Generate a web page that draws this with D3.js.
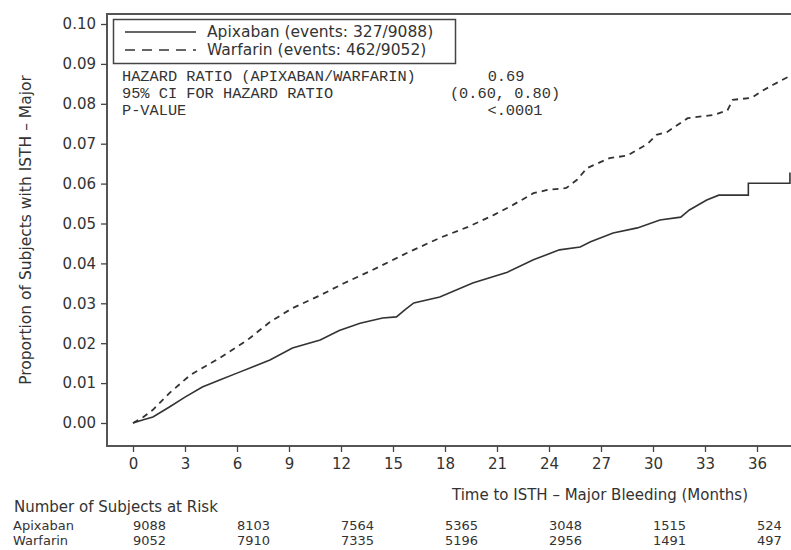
<!DOCTYPE html>
<html>
<head>
<meta charset="utf-8">
<script src="https://cdn.jsdelivr.net/npm/d3@7"></script>
<style>
  body { margin: 0; background: #fff; }
  svg text { fill: #333; }
</style>
</head>
<body>
<div id="chart"></div>
<script>
// tick labels
var xTicks = [0, 3, 6, 9, 12, 15, 18, 21, 24, 27, 30, 33, 36];
var yTicks = [0, 0.01, 0.02, 0.03, 0.04, 0.05, 0.06, 0.07, 0.08, 0.09, 0.10];

// cumulative proportion (months, proportion)
var apixabanTime = [0, 0.6, 1.15, 2.1, 3, 4.0, 5, 6.0, 7, 7.9, 9.2, 10.8, 11.9, 13.1, 14.4, 15.2, 15.7, 16.2, 17.7, 19.6, 21.6, 23.1, 24.6, 25.8, 26.4, 27.7, 29.1, 30.4, 31.6, 32.1, 33.1, 33.8, 35.5, 35.5, 37.9, 37.9];
var apixabanProp = [0, 0.0008, 0.0015, 0.004, 0.0065, 0.009, 0.0108, 0.0125, 0.0142, 0.0158, 0.0188, 0.0208, 0.0232, 0.025, 0.0263, 0.0266, 0.0284, 0.0301, 0.0316, 0.0351, 0.0378, 0.0409, 0.0434, 0.0441, 0.0454, 0.0476, 0.0489, 0.0509, 0.0516, 0.0534, 0.0559, 0.0571, 0.0571, 0.0601, 0.0601, 0.0628];

var warfarinTime = [0, 0.6, 1.15, 2.1, 3.3, 5.0, 6.6, 7.9, 9.2, 10.8, 12.2, 13.8, 15.8, 17.7, 19.3, 20.8, 21.9, 23.1, 23.9, 25.0, 25.6, 26.2, 27.5, 28.5, 29.7, 30.2, 30.8, 32.0, 33.5, 34.3, 34.6, 35.7, 36.2, 36.9, 38.0];
var warfarinProp = [0, 0.0015, 0.0033, 0.0075, 0.012, 0.0163, 0.0208, 0.0253, 0.0288, 0.032, 0.0351, 0.0383, 0.0426, 0.0464, 0.0491, 0.0521, 0.0546, 0.0576, 0.0584, 0.0589, 0.0609, 0.0639, 0.0664, 0.067, 0.070, 0.0722, 0.0729, 0.0764, 0.0772, 0.0784, 0.081, 0.0815, 0.083, 0.0847, 0.0872];

// number at risk table
var riskMonths = [0, 6, 12, 18, 24, 30, 36];
var apixabanRisk = [9088, 8103, 7564, 5365, 3048, 1515, 524];
var warfarinRisk = [9052, 7910, 7335, 5196, 2956, 1491, 497];

var legendLabels = ["Apixaban (events: 327/9088)", "Warfarin (events: 462/9052)"];
var statLabels = ["HAZARD RATIO (APIXABAN/WARFARIN)", "95% CI FOR HAZARD RATIO", "P-VALUE"];
var statValues = ["0.69", "(0.60, 0.80)", "<.0001"];

var width = 791;
var height = 550;
var frame = { left: 107, top: 14, right: 800, bottom: 446 };
var lineColor = "#333";
var font = "'DejaVu Sans', sans-serif";

var svg = d3.select("#chart")
  .append("svg")
  .attr("width", width)
  .attr("height", height);

var x = d3.scaleLinear().domain([0, 36]).range([133, 757]);
var y = d3.scaleLinear().domain([0, 0.10]).range([423, 24]);

// frame
svg.append("path")
  .attr("d", "M" + frame.right + "," + frame.top + "H" + frame.left + "V" + frame.bottom + "H" + frame.right)
  .attr("fill", "none")
  .attr("stroke", "#555")
  .attr("stroke-width", 2);

// y axis
var yAxis = svg.append("g")
  .attr("transform", "translate(" + frame.left + ",0)")
  .call(d3.axisLeft(y).tickValues(yTicks).tickFormat(d3.format(".2f")).tickSize(6).tickPadding(5));
yAxis.select(".domain").remove();

// x axis
var xAxis = svg.append("g")
  .attr("transform", "translate(0," + frame.bottom + ")")
  .call(d3.axisBottom(x).tickValues(xTicks).tickSize(6).tickPadding(6));
xAxis.select(".domain").remove();

svg.selectAll(".tick line").attr("stroke", "#444").attr("stroke-width", 1.3);
svg.selectAll(".tick text")
  .style("font-family", font)
  .style("font-size", "15px")
  .attr("fill", "#333");

// axis titles
svg.append("text")
  .attr("transform", "translate(31,230) rotate(-90)")
  .attr("text-anchor", "middle")
  .style("font-family", font)
  .style("font-size", "15.5px")
  .text("Proportion of Subjects with ISTH \u2013 Major");

svg.append("text")
  .attr("x", 600)
  .attr("y", 500)
  .attr("text-anchor", "middle")
  .style("font-family", font)
  .style("font-size", "15px")
  .text("Time to ISTH \u2013 Major Bleeding (Months)");

// curves
var line = d3.line()
  .x(function(d) { return x(d[0]); })
  .y(function(d) { return y(d[1]); });

var apixabanData = d3.zip(apixabanTime, apixabanProp);
var warfarinData = d3.zip(warfarinTime, warfarinProp);

svg.append("path")
  .datum(apixabanData)
  .attr("d", line)
  .attr("fill", "none")
  .attr("stroke", lineColor)
  .attr("stroke-width", 1.6);

svg.append("path")
  .datum(warfarinData)
  .attr("d", line)
  .attr("fill", "none")
  .attr("stroke", lineColor)
  .attr("stroke-width", 1.8)
  .attr("stroke-dasharray", "6,5");

// legend
var legend = svg.append("g");
legend.append("rect")
  .attr("x", 113.5)
  .attr("y", 19.5)
  .attr("width", 342)
  .attr("height", 44)
  .attr("fill", "#fff")
  .attr("stroke", "#444")
  .attr("stroke-width", 1.5);

legendLabels.forEach(function(label, i) {
  var ly = 32 + i * 18;
  legend.append("line")
    .attr("x1", 125).attr("x2", 196)
    .attr("y1", ly).attr("y2", ly)
    .attr("stroke", lineColor)
    .attr("stroke-width", 1.5)
    .attr("stroke-dasharray", i == 0 ? null : "10,7");
  legend.append("text")
    .attr("x", 207)
    .attr("y", ly + 5)
    .style("font-family", font)
    .style("font-size", "15.5px")
    .text(label);
});

// hazard ratio block
statLabels.forEach(function(label, i) {
  svg.append("text")
    .attr("x", 122)
    .attr("y", 81 + i * 17)
    .style("font-family", "'Liberation Mono', monospace")
    .style("font-size", "15.3px")
    .attr("fill", "#444")
    .text(label);
});
var statX = [506, 505, 515];
statValues.forEach(function(v, i) {
  svg.append("text")
    .attr("x", statX[i])
    .attr("y", 81 + i * 17)
    .attr("text-anchor", "middle")
    .style("font-family", "'Liberation Mono', monospace")
    .style("font-size", "15.3px")
    .attr("fill", "#444")
    .text(v);
});

// number at risk
svg.append("text")
  .attr("x", 14)
  .attr("y", 512)
  .style("font-family", font)
  .style("font-size", "15px")
  .text("Number of Subjects at Risk");

var riskRows = [
  { name: "Apixaban", values: apixabanRisk, y: 529.5 },
  { name: "Warfarin", values: warfarinRisk, y: 544.5 }
];

riskRows.forEach(function(row) {
  svg.append("text")
    .attr("x", 13)
    .attr("y", row.y)
    .style("font-family", font)
    .style("font-size", "13px")
    .text(row.name);

  svg.selectAll(null)
    .data(row.values)
    .enter()
    .append("text")
    .attr("x", function(d, i) { return x(riskMonths[i]); })
    .attr("y", row.y)
    .style("font-family", font)
    .style("font-size", "13px")
    .text(function(d) { return d; });
});
</script>
</body>
</html>
